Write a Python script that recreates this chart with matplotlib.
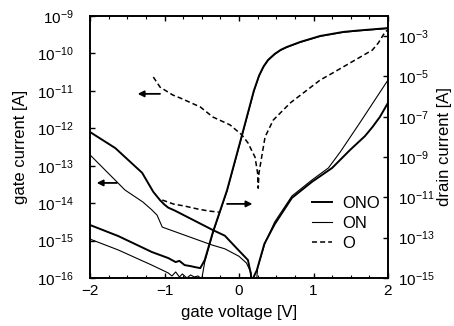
import numpy
import matplotlib
matplotlib.use('Agg')
import matplotlib.pyplot as plt
from matplotlib.ticker import LogLocator, NullLocator, MultipleLocator

plt.rcParams['font.family'] = 'Liberation Sans'
plt.rcParams['mathtext.fontset'] = 'custom'
plt.rcParams['mathtext.rm'] = 'Liberation Sans'
plt.rcParams['mathtext.it'] = 'Liberation Sans:italic'
plt.rcParams['mathtext.bf'] = 'Liberation Sans:bold'

# gate current, log10 |I| in A (left axis)
ono_gate_v = [-2.0, -1.66, -1.30, -1.15, -1.06, -1.0, -0.95, -0.86, -0.35, -0.19, -0.01, 0.12, 0.16, 0.18,
              0.19, 0.24, 0.34, 0.48, 0.71, 0.98, 1.25, 1.49, 1.69, 1.79, 1.89, 2.0]
ono_gate_log = [-12.10, -12.53, -13.19, -13.70, -13.92, -14.04, -14.12, -14.20, -14.72, -14.87, -15.25, -15.52, -15.90, -17.0,
                -16.0, -15.79, -15.09, -14.56, -13.86, -13.43, -13.06, -12.58, -12.21, -11.97, -11.70, -11.32]

on_gate_v = [-2.0, -1.80, -1.53, -1.29, -1.17, -1.10, -1.03, -0.36, -0.19, 0.0, 0.10, 0.16, 0.20,
             0.25, 0.35, 0.48, 0.71, 0.98, 1.20, 1.36, 1.62, 2.0]
on_gate_log = [-12.71, -13.11, -13.65, -13.97, -14.18, -14.32, -14.64, -15.12, -15.22, -15.42, -15.60, -15.85, -17.0,
               -15.73, -15.06, -14.50, -13.81, -13.38, -13.06, -12.63, -11.86, -10.71]

o_gate_v = [-1.15, -1.06, -0.89, -0.79, -0.52, -0.35, -0.12, 0.04, 0.12, 0.215, 0.25, 0.258, 0.268,
            0.282, 0.35, 0.46, 0.69, 1.09, 1.26, 1.79, 1.87, 1.96, 2.0]
o_gate_log = [-10.63, -10.90, -11.11, -11.19, -11.43, -11.70, -11.91, -12.18, -12.39, -12.77, -13.2, -13.6, -13.2,
              -13.03, -12.23, -11.78, -11.32, -10.71, -10.52, -9.91, -9.72, -9.43, -9.37]

# drain current, log10 |I| in A (right axis)
ono_drain_v = [-2.0, -1.62, -1.17, -0.95, -0.85, -0.80, -0.73, -0.65, -0.59, -0.52, -0.46, -0.35, -0.16,
               0.04, 0.20, 0.27, 0.33, 0.39, 0.48, 0.56, 0.64, 0.82, 1.09, 1.40, 1.60, 2.0]
ono_drain_log = [-12.37, -12.92, -13.71, -14.01, -14.21, -14.15, -14.36, -14.41, -14.46, -14.51, -14.11, -12.72, -10.64,
                 -7.91, -5.70, -4.95, -4.50, -4.18, -3.88, -3.68, -3.54, -3.29, -2.99, -2.79, -2.72, -2.60]

on_drain_v = [-2.0, -1.62, -1.17, -1.0, -0.95, -0.90, -0.85, -0.80, -0.76, -0.70, -0.65, -0.60, -0.55,
              -0.50, -0.46, -0.35, -0.16, 0.04, 0.20, 0.27, 0.33, 0.39, 0.48, 0.56, 0.64, 0.82, 1.09,
              1.40, 1.60, 2.0]
on_drain_log = [-13.07, -13.61, -14.36, -14.66, -14.75, -14.90, -14.70, -14.95, -14.80, -15.0, -14.85, -14.95, -14.90,
                -15.05, -14.21, -12.77, -10.68, -7.96, -5.74, -4.98, -4.53, -4.21, -3.90, -3.70, -3.56, -3.31, -3.01,
                -2.81, -2.74, -2.62]

o_drain_v = [-1.03, -0.88, -0.73, -0.55, -0.40, -0.27]
o_drain_log = [-11.13, -11.33, -11.43, -11.58, -11.68, -11.73]

legend_labels = ['ONO', 'ON', 'O']

THICK = 1.4
THIN = 0.8
DASH = (3.3, 2.0)


def curr(logs):
    return 10.0 ** numpy.array(logs)


fig = plt.figure(figsize=(4.54, 3.26), dpi=100)
ax = fig.add_axes([90 / 454, 48 / 326, 298 / 454, 262 / 326])
ax2 = ax.twinx()

l_ono, = ax.plot(ono_gate_v, curr(ono_gate_log), 'k-', lw=THICK)
l_on, = ax.plot(on_gate_v, curr(on_gate_log), 'k-', lw=THIN)
l_o, = ax.plot(o_gate_v, curr(o_gate_log), 'k--', lw=1.1, dashes=DASH)

ax2.plot(on_drain_v, curr(on_drain_log), 'k-', lw=THIN)
ax2.plot(ono_drain_v, curr(ono_drain_log), 'k-', lw=THICK)
ax2.plot(o_drain_v, curr(o_drain_log), 'k--', lw=1.1, dashes=DASH)

ax.set_xlim(-2, 2)
ax.set_yscale('log')
ax.set_ylim(1e-16, 1e-9)
ax2.set_yscale('log')
ax2.set_ylim(1e-15, 1e-2)

ax.xaxis.set_major_locator(MultipleLocator(1))
ax.xaxis.set_minor_locator(MultipleLocator(0.25))
ax.yaxis.set_major_locator(LogLocator(base=10, numticks=20))
ax.yaxis.set_minor_locator(NullLocator())
ax2.yaxis.set_minor_locator(NullLocator())
ax2.set_yticks([1e-15, 1e-13, 1e-11, 1e-9, 1e-7, 1e-5, 1e-3])

ax.tick_params(axis='x', which='both', direction='in', top=True, labelsize=11, pad=4)
ax.tick_params(axis='x', which='major', length=3.5, width=1)
ax.tick_params(axis='x', which='minor', length=2.5, width=0.8)
ax.tick_params(axis='y', which='major', direction='in', length=3.5, width=1, labelsize=11, pad=12)
ax2.tick_params(axis='y', which='major', direction='in', length=3.5, width=1, labelsize=11, pad=7)

for a in (ax, ax2):
    for s in a.spines.values():
        s.set_linewidth(1.2)

ax.set_xlabel('gate voltage [V]', fontsize=12, labelpad=5)
ax.set_ylabel('gate current [A]', fontsize=12, labelpad=6)
ax2.set_ylabel('drain current [A]', fontsize=12, labelpad=2)

arrow = dict(arrowstyle='-|>', color='k', lw=1.3, shrinkA=0, shrinkB=0, mutation_scale=9)
ax.annotate('', xy=(-1.36, 10 ** -11.08), xytext=(-1.06, 10 ** -11.08), arrowprops=arrow)
ax.annotate('', xy=(-1.91, 10 ** -13.46), xytext=(-1.64, 10 ** -13.46), arrowprops=arrow)
ax.annotate('', xy=(0.18, 10 ** -14.02), xytext=(-0.16, 10 ** -14.02), arrowprops=arrow)

ax2.legend([l_ono, l_on, l_o], legend_labels, loc='center left', bbox_to_anchor=(0.745, 0.208),
           frameon=False, fontsize=12, handlelength=1.2, handletextpad=0.6, labelspacing=0.3,
           borderpad=0, borderaxespad=0)

fig.savefig('out.png', dpi=100)
